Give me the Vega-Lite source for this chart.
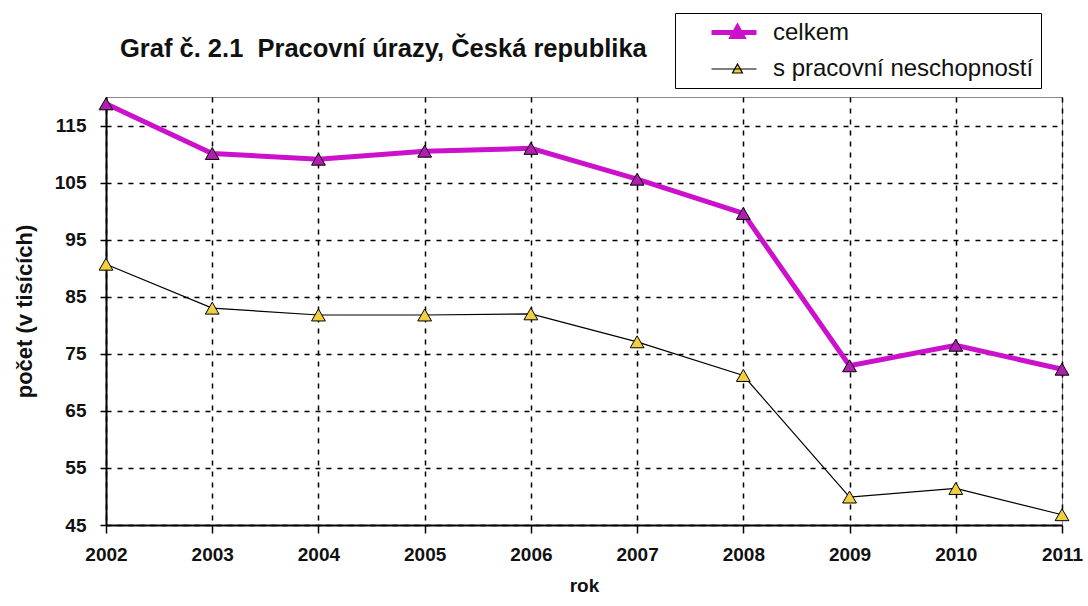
{
  "$schema": "https://vega.github.io/schema/vega-lite/v6.json",
  "autosize": "none",
  "width": 956,
  "height": 428,
  "padding": {"left": 106, "top": 97, "right": 26, "bottom": 81},
  "background": "white",
  "title": {
    "text": "Graf č. 2.1\u00a0 Pracovní úrazy, Česká republika",
    "anchor": "start",
    "frame": "group",
    "dx": 14,
    "offset": -50,
    "font": "Liberation Sans",
    "fontSize": 25.5,
    "fontWeight": "bold",
    "color": "#111111"
  },
  "data": {
    "values": [
      {"rok": "2002", "serie": "celkem", "pocet": 118.8},
      {"rok": "2003", "serie": "celkem", "pocet": 110.1},
      {"rok": "2004", "serie": "celkem", "pocet": 109.1},
      {"rok": "2005", "serie": "celkem", "pocet": 110.5},
      {"rok": "2006", "serie": "celkem", "pocet": 111.0},
      {"rok": "2007", "serie": "celkem", "pocet": 105.6},
      {"rok": "2008", "serie": "celkem", "pocet": 99.6},
      {"rok": "2009", "serie": "celkem", "pocet": 72.9},
      {"rok": "2010", "serie": "celkem", "pocet": 76.5},
      {"rok": "2011", "serie": "celkem", "pocet": 72.3},
      {"rok": "2002", "serie": "s pracovní neschopností", "pocet": 90.7},
      {"rok": "2003", "serie": "s pracovní neschopností", "pocet": 83.0},
      {"rok": "2004", "serie": "s pracovní neschopností", "pocet": 81.8},
      {"rok": "2005", "serie": "s pracovní neschopností", "pocet": 81.8},
      {"rok": "2006", "serie": "s pracovní neschopností", "pocet": 82.0},
      {"rok": "2007", "serie": "s pracovní neschopností", "pocet": 77.1},
      {"rok": "2008", "serie": "s pracovní neschopností", "pocet": 71.2},
      {"rok": "2009", "serie": "s pracovní neschopností", "pocet": 49.9},
      {"rok": "2010", "serie": "s pracovní neschopností", "pocet": 51.4},
      {"rok": "2011", "serie": "s pracovní neschopností", "pocet": 46.8}
    ]
  },
  "encoding": {
    "x": {
      "field": "rok",
      "type": "ordinal",
      "scale": {"type": "point", "padding": 0},
      "axis": {
        "title": "rok",
        "labelAngle": 0,
        "tickSize": 8,
        "labelPadding": 12,
        "titlePadding": 12
      }
    },
    "y": {
      "field": "pocet",
      "type": "quantitative",
      "scale": {"domain": [45, 120], "nice": false, "zero": false},
      "axis": {
        "title": "počet (v tisících)",
        "titleFontSize": 22,
        "values": [45, 55, 65, 75, 85, 95, 105, 115],
        "tickSize": 6,
        "labelPadding": 14,
        "titlePadding": 18
      }
    }
  },
  "layer": [
    {
      "mark": {"type": "line"},
      "encoding": {
        "color": {
          "field": "serie",
          "type": "nominal",
          "scale": {"domain": ["celkem", "s pracovní neschopností"], "range": ["#cc11cc", "#000000"]},
          "legend": {
            "title": null,
            "orient": "none",
            "legendX": 569,
            "legendY": -84,
            "padding": 7,
            "strokeColor": "#000000",
            "fillColor": "#ffffff",
            "symbolType": "M-2.6,0H1.9M0,-0.5L0.5,0.4H-0.5Z",
            "symbolSize": 400,
            "symbolStrokeWidth": 1,
            "symbolOffset": 43,
            "labelFont": "Liberation Sans",
            "labelFontSize": 24,
            "labelFontWeight": "normal",
            "labelColor": "#111111",
            "labelOffset": 23,
            "rowPadding": 10,
            "labelLimit": 400,
            "encode": {
              "symbols": {
                "update": {
                  "stroke": {"signal": "datum.value === 'celkem' ? '#cc11cc' : '#000000'"},
                  "fill": {"signal": "datum.value === 'celkem' ? '#a020a0' : '#e8d060'"},
                  "strokeWidth": {"signal": "datum.value === 'celkem' ? 4 : 1.2"}
                }
              }
            }
          }
        },
        "strokeWidth": {
          "field": "serie",
          "type": "nominal",
          "scale": {"domain": ["celkem", "s pracovní neschopností"], "range": [5, 1.2]},
          "legend": null
        }
      }
    },
    {
      "mark": {"type": "point", "shape": "triangle-up", "size": 190, "filled": true, "stroke": "#000000", "strokeWidth": 1, "opacity": 1},
      "encoding": {
        "fill": {
          "field": "serie",
          "type": "nominal",
          "scale": {"domain": ["celkem", "s pracovní neschopností"], "range": ["#b020b0", "#f0d040"]},
          "legend": null
        }
      }
    }
  ],
  "config": {
    "view": {"stroke": "#888888", "strokeWidth": 1},
    "axis": {
      "labelFont": "Liberation Sans",
      "labelFontSize": 19,
      "labelFontWeight": "bold",
      "labelColor": "#111111",
      "titleFont": "Liberation Sans",
      "titleFontSize": 19,
      "titleFontWeight": "bold",
      "titleColor": "#111111",
      "domainColor": "#000000",
      "domainWidth": 2,
      "tickColor": "#000000",
      "tickWidth": 1.5,
      "grid": true,
      "gridColor": "#000000",
      "gridWidth": 1.5,
      "gridDash": [5, 6],
      "gridOpacity": 1
    }
  }
}
